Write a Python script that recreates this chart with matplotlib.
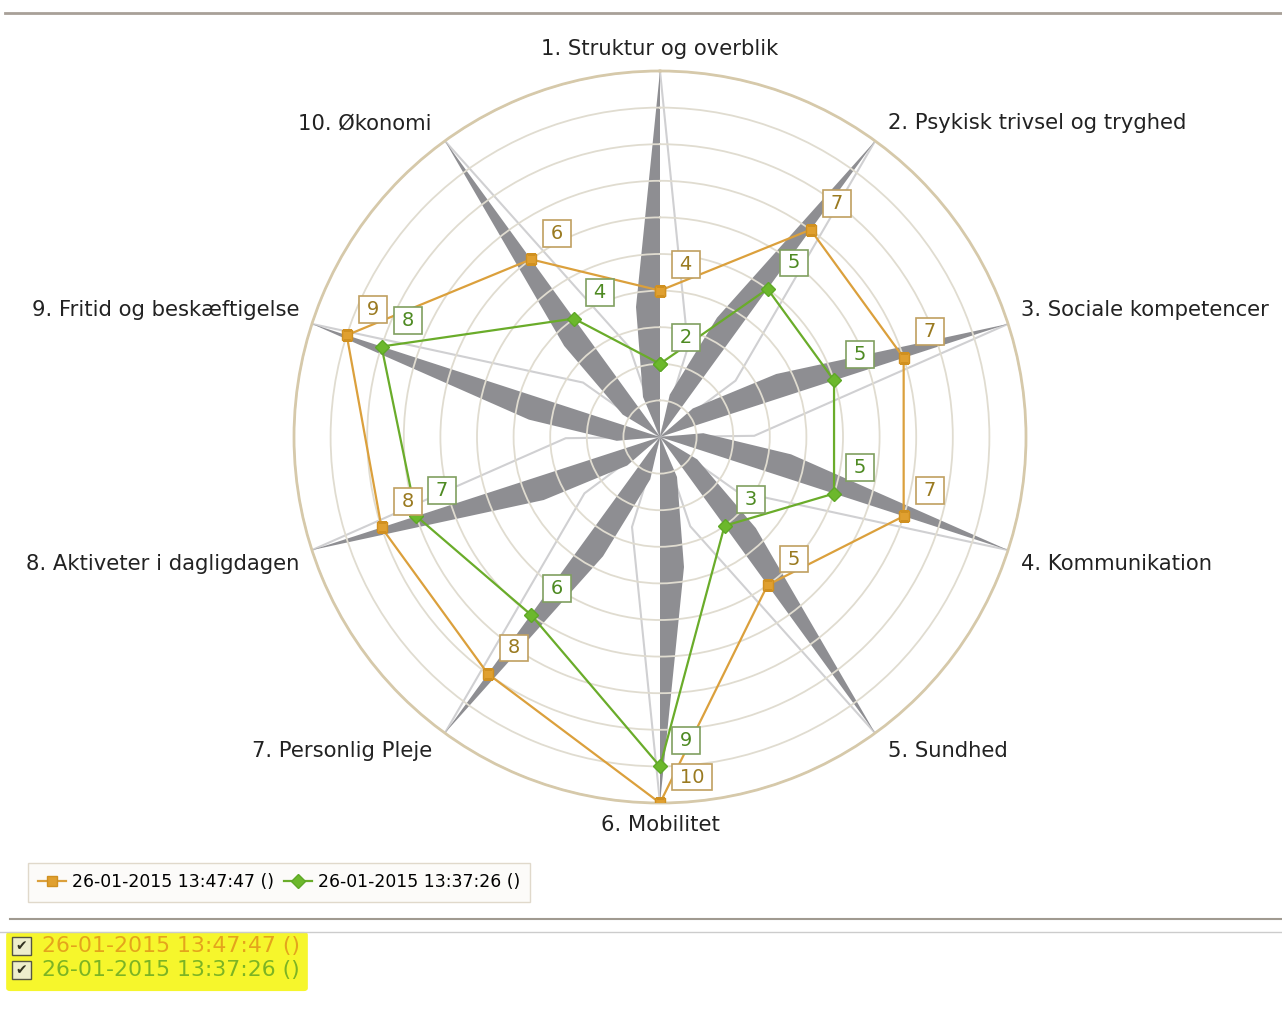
import numpy as np
import matplotlib
matplotlib.use("Agg")
import matplotlib.pyplot as plt
from matplotlib.lines import Line2D
from matplotlib.patches import Rectangle, FancyBboxPatch

# data
categories = ["1. Struktur og overblik", "2. Psykisk trivsel og tryghed",
              "3. Sociale kompetencer", "4. Kommunikation", "5. Sundhed",
              "6. Mobilitet", "7. Personlig Pleje", "8. Aktiveter i dagligdagen",
              "9. Fritid og beskæftigelse", "10. Økonomi"]
series_names = ["26-01-2015 13:47:47 ()", "26-01-2015 13:37:26 ()"]
values_a = [4, 7, 7, 7, 5, 10, 8, 8, 9, 6]
values_b = [2, 5, 5, 5, 3, 9, 6, 7, 8, 4]
r_max = 10

W, H = 1282, 1025
orange = "#dba03c"
green = "#6aac2a"

fig = plt.figure(figsize=(W / 100, H / 100), dpi=100)
fig.patch.set_facecolor("white")

# polar axes : center (660,437), radius 366px
ax = fig.add_axes([294 / W, 222 / H, 732 / W, 732 / H], projection="polar")
ax.set_theta_zero_location("N")
ax.set_theta_direction(-1)
ax.set_ylim(0, r_max)
ax.set_yticks(range(1, r_max + 1))
ax.set_yticklabels([])
ax.set_xticks([])
ax.yaxis.grid(True, color="#e0dcd0", lw=1.3)
ax.spines["polar"].set_color("#d6c9aa")
ax.spines["polar"].set_linewidth(2)

n = len(categories)
theta = np.arange(n) * 2 * np.pi / n
px_unit = 36.6

# star spikes: (distance along axis, side offset) in px
dark_pts = [(40, 17), (130, 24)]
light_pt = (90, 28)
d_off = [np.arctan2(w, a) for a, w in dark_pts]
d_r = [np.hypot(w, a) / px_unit for a, w in dark_pts]
l_off = np.arctan2(light_pt[1], light_pt[0])
l_r = np.hypot(light_pt[1], light_pt[0]) / px_unit
for t in theta:
    ax.plot([t, t + l_off, t], [0, l_r, r_max], color="#d0d0d2", lw=1.5, zorder=1)
for t in theta:
    ax.fill([t, t - d_off[0], t - d_off[1], t], [0, d_r[0], d_r[1], r_max],
            color="#8e8e92", lw=0, zorder=1.1)

th = np.append(theta, theta[0])
line_a, = ax.plot(th, values_a + values_a[:1], color=orange, lw=1.6, marker="s", ms=7.5,
                  mfc="#e0a030", mec="#d09020", zorder=3)
line_b, = ax.plot(th, values_b + values_b[:1], color=green, lw=1.6, marker="D", ms=7.5,
                  mfc="#6cb82c", mec="#5ea826", zorder=3)

# value labels
for vals, tc, ec in [(values_a, "#9a7a20", "#c0a060"), (values_b, "#4e8a22", "#80a060")]:
    for t, v in zip(theta, vals):
        ax.annotate("\u2009%d\u2009" % v, xy=(t, v), xytext=(11.5, 18.7),
                    textcoords="offset points", ha="left", va="center",
                    fontsize=14, color=tc, zorder=5,
                    bbox=dict(boxstyle="square,pad=0.2", fc="white", ec=ec, lw=1.2))

# category labels
for t, name in zip(theta, categories):
    s, c = np.sin(t), np.cos(t)
    if abs(s) < 0.1:
        ha = "center"
    elif s > 0:
        ha = "left"
    else:
        ha = "right"
    va, r = "center", 10.6
    if abs(c) < 0.5:
        va = "bottom" if c > 0 else "top"
        r = 10.37
    ax.text(t, r, name, ha=ha, va=va, fontsize=15.2, color="#222222")

# legend
leg = fig.legend([line_a, line_b], series_names, loc="upper left",
                 bbox_to_anchor=(28 / W, 1 - 863 / H), ncol=2, fontsize=12.4,
                 frameon=True, fancybox=False, borderaxespad=0, handlelength=1.6,
                 handletextpad=0.35, columnspacing=0.6, borderpad=0.6)
leg.get_frame().set_edgecolor("#d9d0bf")
leg.get_frame().set_facecolor("#fcfbf8")
leg.get_frame().set_linewidth(1)

# separator lines
fig.add_artist(Line2D([5 / W, 1], [1 - 13 / H] * 2, color="#a8a098", lw=2))
fig.add_artist(Line2D([10 / W, 1], [1 - 919 / H] * 2, color="#a09a90", lw=1.5))
fig.add_artist(Line2D([0, 1], [1 - 932 / H] * 2, color="#cccccc", lw=1))

# highlighted checkbox list
fig.add_artist(FancyBboxPatch((10 / W, 1 - 988 / H), 294 / W, 53 / H,
                              boxstyle="round,pad=0.003", transform=fig.transFigure,
                              fc="#f6f62c", ec="none"))
for i, (name, c) in enumerate(zip(series_names, ["#e4a41c", "#7cb424"])):
    y = 946 + 24 * i
    fig.add_artist(Rectangle((12 / W, 1 - (y + 9) / H), 19 / W, 18 / H,
                             transform=fig.transFigure, fc="#eeeecc", ec="#555544", lw=1))
    fig.text(21.5 / W, 1 - y / H, "\u2714", ha="center", va="center", fontsize=10,
             color="#333322")
    fig.text(42 / W, 1 - y / H, name, ha="left", va="center", fontsize=15.8, color=c)

fig.savefig("out.png", dpi=100)
